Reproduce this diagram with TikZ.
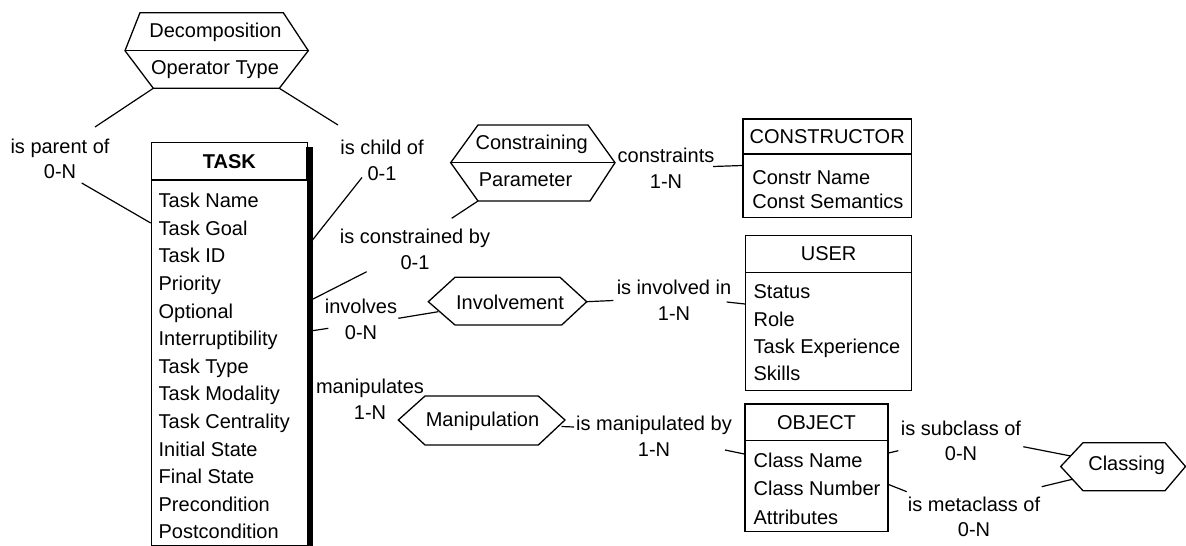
\documentclass[tikz,border=0pt]{standalone}
\usepackage{fontspec}
\setmainfont{Liberation Sans}
\usetikzlibrary{calc}
\begin{document}
\begin{tikzpicture}[x=1pt,y=-1pt,
  line width=1.3pt, line join=miter,
  txt/.style={font=\fontsize{20}{23}\selectfont, inner sep=0pt},
  lbl/.style={inner sep=0pt, align=center, font=\fontsize{20}{25.5}\selectfont},
  head/.style={draw, txt, anchor=north west},
  body/.style={draw, anchor=north west, inner sep=0pt},
  attrs/.style={inner sep=0pt, anchor=north west, align=left},
  wire/.style={line width=1.2pt}]

\useasboundingbox (0,0) rectangle (1186,546);

% ---------- entities ----------
% TASK, with its drop shadow on the right
\fill ($(150.7,141.7)+(155,5)$) rectangle (312.7,548);
\node[head, minimum width=156pt, minimum height=37.6pt] (taskh) at (150.7,141.7) {\bfseries TASK};
\node[body, fill=white, minimum width=156pt, minimum height=365.7pt] (taskb) at (150.7,179.3) {};
\node[attrs, font=\fontsize{20}{27.6}\selectfont] (taskt) at (158,192.5)
  {Task Name\\Task Goal\\Task ID\\Priority\\Optional\\Interruptibility\\Task Type\\Task Modality\\Task Centrality\\Initial State\\Final State\\Precondition\\Postcondition};

% CONSTRUCTOR
\node[head, minimum width=168.4pt, minimum height=35pt] (consh) at (742.3,118.3) {CONSTRUCTOR};
\node[body, minimum width=168.4pt, minimum height=63.4pt] (consb) at (742.3,153.3) {};
\node[attrs, font=\fontsize{20}{24.7}\selectfont] (const) at (751.7,169.5)
  {Constr Name\\Const Semantics};

% USER
\node[head, minimum width=166pt, minimum height=36.7pt] (userh) at (745,235) {USER};
\node[body, minimum width=166pt, minimum height=118.3pt] (userb) at (745,271.7) {};
\node[attrs, font=\fontsize{20}{27.2}\selectfont] (usert) at (753,284.2)
  {Status\\Role\\Task Experience\\Skills};

% OBJECT
\node[head, minimum width=143pt, minimum height=36.7pt] (objh) at (744.3,403.3) {OBJECT};
\node[body, minimum width=143pt, minimum height=90.7pt] (objb) at (744.3,440) {};
\node[attrs, font=\fontsize{20}{28.3}\selectfont] (objt) at (753,452.5)
  {Class Name\\Class Number\\Attributes};

% ---------- relationships (hexagons) ----------
% Decomposition / Operator Type
\coordinate (decL) at (125,50.7);   \coordinate (decTL) at (140,12.7);
\coordinate (decTR) at (283.3,12.7); \coordinate (decR) at (308.3,50.7);
\coordinate (decBR) at (279.3,88.3); \coordinate (decBL) at (153.3,88.3);
\draw (decL) -- (decTL) -- (decTR) -- (decR) -- (decBR) -- (decBL) -- cycle;
\draw (decL) -- (decR);
\node[txt] (dec1) at (215.5,32) {Decomposition};
\node[txt] (dec2) at (215,70) {Operator Type};

% Constraining / Parameter
\coordinate (conL) at (450.7,162.7); \coordinate (conTL) at (478,125);
\coordinate (conTR) at (588,125);    \coordinate (conR) at (615,162.7);
\coordinate (conBR) at (590,201);    \coordinate (conBL) at (478,201);
\draw (conL) -- (conTL) -- (conTR) -- (conR) -- (conBR) -- (conBL) -- cycle;
\draw (conL) -- (conR);
\node[txt] (con1) at (531.7,144) {Constraining};
\node[txt] (con2) at (525.5,180) {Parameter};

% Involvement
\coordinate (invL) at (428.3,301.7); \coordinate (invTL) at (455,277.3);
\coordinate (invTR) at (560,277.3);  \coordinate (invR) at (586.7,301.7);
\coordinate (invBR) at (561.7,325);  \coordinate (invBL) at (455,325);
\draw (invL) -- (invTL) -- (invTR) -- (invR) -- (invBR) -- (invBL) -- cycle;
\node[txt] (inv) at (510,302) {Involvement};

% Manipulation
\coordinate (manL) at (398.3,420);   \coordinate (manTL) at (425,396);
\coordinate (manTR) at (538.3,396);  \coordinate (manR) at (565,420);
\coordinate (manBR) at (538.3,445);  \coordinate (manBL) at (425,445);
\draw (manL) -- (manTL) -- (manTR) -- (manR) -- (manBR) -- (manBL) -- cycle;
\node[txt] (man) at (482.5,421.5) {Manipulation};

% Classing
\coordinate (claL) at (1060.7,466.5); \coordinate (claTL) at (1083,442.7);
\coordinate (claTR) at (1165,442.7);  \coordinate (claR) at (1185.5,466.5);
\coordinate (claBR) at (1165,490.7);  \coordinate (claBL) at (1083,490.7);
\draw (claL) -- (claTL) -- (claTR) -- (claR) -- (claBR) -- (claBL) -- cycle;
\node[txt] (cla) at (1126.7,465.5) {Classing};

% ---------- role labels ----------
\node[lbl] (plab)   at (60,159)    {is parent of\\0-N};
\node[lbl] (clab)   at (382,160.5) {is child of\\0-1};
\node[lbl] (cblab)  at (415,249.5) {is constrained by\\0-1};
\node[lbl] (cslab)  at (666,168.5) {constraints\\1-N};
\node[lbl] (invlab) at (361,319.5) {involves\\0-N};
\node[lbl] (iinlab) at (674,300.5) {is involved in\\1-N};
\node[lbl] (manlab) at (370,399)   {manipulates\\1-N};
\node[lbl] (imblab) at (654,436)   {is manipulated by\\1-N};
\node[lbl] (sublab) at (961,441)   {is subclass of\\0-N};
\node[lbl] (metlab) at (974,517)   {is metaclass of\\0-N};

% ---------- connector ends ----------
\coordinate (pA) at (95,127);      \coordinate (pB) at (81.7,183);   \coordinate (pT) at (150.7,223);
\coordinate (cA) at (338,125);     \coordinate (cB) at (362,177.5);  \coordinate (cT) at (312.5,240);
\coordinate (cbA) at (451.7,218.3);\coordinate (cbB) at (366.7,271.7);\coordinate (cbT) at (312.5,299.3);
\coordinate (csA) at (713,166.5);  \coordinate (csE) at (742.3,165.5);
\coordinate (ivH) at (438.3,311.7);\coordinate (ivA) at (398.3,318.3);
\coordinate (ivB) at (328.3,328.3);\coordinate (ivT) at (312.5,330.7);
\coordinate (iiA) at (613.3,300.5);\coordinate (iiB) at (726.7,302); \coordinate (iiE) at (745,304);
\coordinate (mbH) at (561.5,426.5);\coordinate (mbA) at (574,427);
\coordinate (mbB) at (725,450);    \coordinate (mbE) at (744.3,454);
\coordinate (scE) at (887.3,453.3);\coordinate (scA) at (898.3,450.7);
\coordinate (scB) at (1023.3,446.7);\coordinate (scH) at (1070.7,456);
\coordinate (mcE) at (887.3,484);  \coordinate (mcA) at (906.7,491.7);
\coordinate (mcB) at (1041.7,486.7);\coordinate (mcH) at (1072.2,479.3);

% ---------- connectors ----------
\draw[wire] (decBL) -- (pA);  \draw[wire] (pB) -- (pT);
\draw[wire] (decBR) -- (cA);  \draw[wire] (cB) -- (cT);
\draw[wire] (conBL) -- (cbA); \draw[wire] (cbB) -- (cbT);
\draw[wire] (csA) -- (csE);
\draw[wire] (ivH) -- (ivA);   \draw[wire] (ivB) -- (ivT);
\draw[wire] (invR) -- (iiA);  \draw[wire] (iiB) -- (iiE);
\draw[wire] (mbH) -- (mbA);   \draw[wire] (mbB) -- (mbE);
\draw[wire] (scE) -- (scA);   \draw[wire] (scB) -- (scH);
\draw[wire] (mcE) -- (mcA);   \draw[wire] (mcB) -- (mcH);
\end{tikzpicture}
\end{document}
